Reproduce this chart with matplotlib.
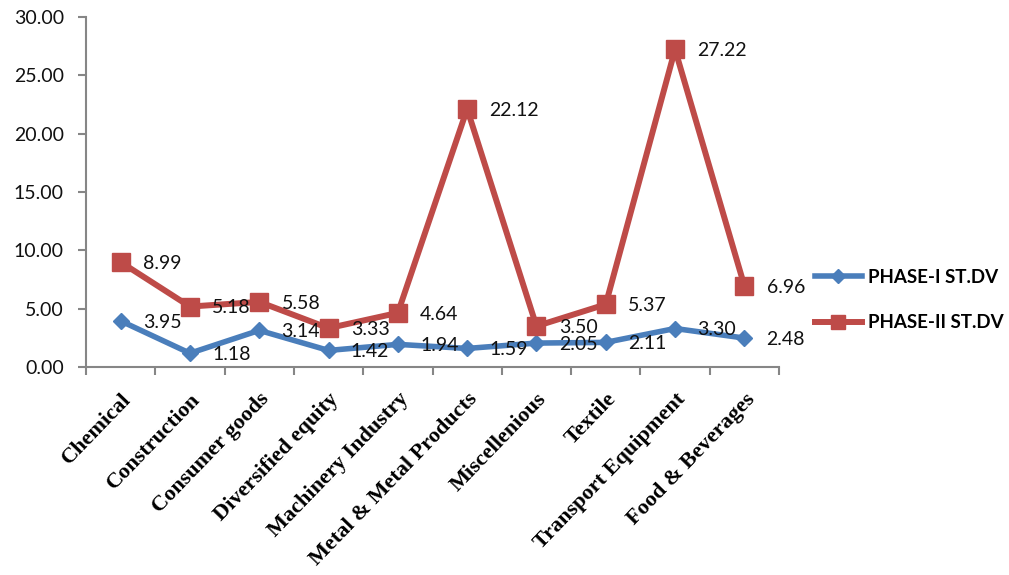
import matplotlib
matplotlib.use("Agg")
import matplotlib.pyplot as plt
import numpy as np

# sectors and the two standard-deviation series
sectors = ["Chemical", "Construction", "Consumer goods", "Diversified equity",
           "Machinery Industry", "Metal & Metal Products", "Miscellenious",
           "Textile", "Transport Equipment", "Food & Beverages"]
phase1 = [3.95, 1.18, 3.14, 1.42, 1.94, 1.59, 2.05, 2.11, 3.30, 2.48]
phase2 = [8.99, 5.18, 5.58, 3.33, 4.64, 22.12, 3.50, 5.37, 27.22, 6.96]
yticks = [0, 5, 10, 15, 20, 25, 30]

BLUE = "#4A7EBB"
RED = "#BE4B48"
GRAY = "#868686"
SANS = ["Lato", "DejaVu Sans"]

plt.rcParams["font.family"] = SANS

fig = plt.figure(figsize=(10.09, 5.75), dpi=100)
ax = fig.add_axes([86 / 1009, 1 - 367 / 575, (779 - 86) / 1009, 350 / 575])

x = np.arange(len(sectors))
ax.plot(x, phase1, color=BLUE, lw=4, marker="D", ms=8.5, mec=BLUE,
        label="PHASE-I ST.DV", zorder=3)
ax.plot(x, phase2, color=RED, lw=4.3, marker="s", ms=13, mec=RED,
        label="PHASE-II ST.DV", zorder=4)

# data labels to the right of each point
for series in (phase1, phase2):
    for i, v in enumerate(series):
        ax.annotate("%.2f" % v, (i, v), xytext=(16, -1), textcoords="offset points",
                    ha="left", va="center", fontsize=14, color="#111111", zorder=5)

ax.set_xlim(-0.5, len(sectors) - 0.5)
ax.set_ylim(0, 30)
ax.set_yticks(yticks)
ax.set_yticklabels(["%.2f" % t for t in yticks], fontsize=14, color="#111111")

ax.set_xticks(x)
ax.set_xticklabels(sectors, rotation=46, ha="right", rotation_mode="anchor",
                   fontsize=16, fontweight="bold", family="Liberation Serif")
ax.set_xticks(np.arange(len(sectors) + 1) - 0.5, minor=True)
ax.tick_params(axis="x", which="major", length=0, pad=16)
ax.tick_params(axis="x", which="minor", length=6, width=1.5, color=GRAY)
ax.tick_params(axis="y", length=6, width=1.5, color=GRAY, pad=10)

for side in ("top", "right"):
    ax.spines[side].set_visible(False)
for side in ("left", "bottom"):
    ax.spines[side].set_color(GRAY)
    ax.spines[side].set_linewidth(1.5)

leg = fig.legend(loc="center left", bbox_to_anchor=(815 / 1009, 1 - 300 / 575),
                 frameon=False, borderpad=0, borderaxespad=0, handlelength=2.5,
                 handletextpad=0.3, labelspacing=1.5, markerscale=0.8,
                 prop={"family": SANS, "weight": "bold", "size": 13.5})

fig.savefig("out.png", dpi=100)
